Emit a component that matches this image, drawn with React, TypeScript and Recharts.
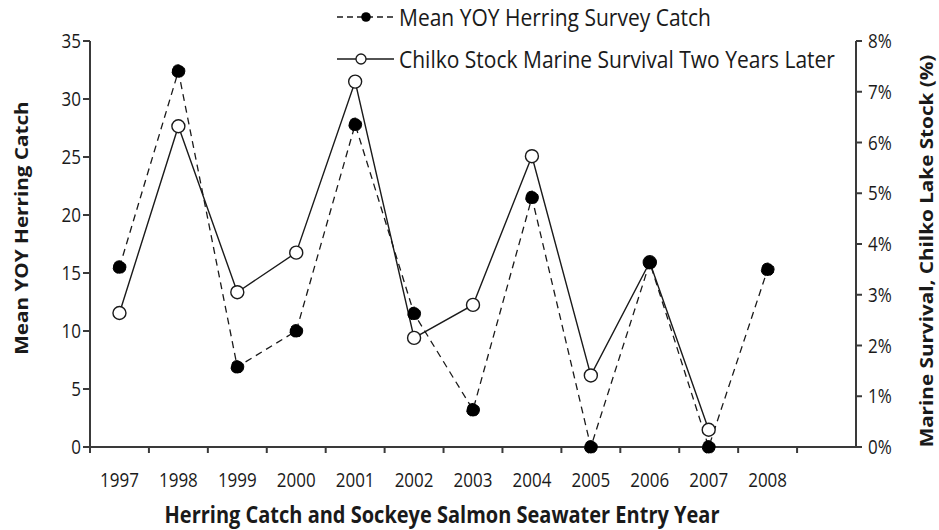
import React from 'react';
import { ComposedChart, Line, XAxis, YAxis, Legend, Label } from 'recharts';

// Seawater entry years (last slot is an empty category on the axis)
const years = ['1997', '1998', '1999', '2000', '2001', '2002', '2003', '2004', '2005', '2006', '2007', '2008', ''];

// Mean young-of-year herring survey catch
const herringCatch: (number | null)[] = [15.5, 32.4, 6.9, 10.0, 27.8, 11.5, 3.2, 21.5, 0, 15.9, 0, 15.3, null];

// Chilko stock marine survival two years later (%)
const marineSurvival: (number | null)[] = [2.64, 6.32, 3.05, 3.83, 7.2, 2.15, 2.8, 5.73, 1.41, 3.64, 0.34, null, null];

const catchTicks = [0, 5, 10, 15, 20, 25, 30, 35];
const survivalTicks = [0, 1, 2, 3, 4, 5, 6, 7, 8];

const herringName = 'Mean YOY Herring Survey Catch';
const survivalName = 'Chilko Stock Marine Survival Two Years Later';

const data = years.map((year, i) => ({
  year,
  herring: herringCatch[i],
  survival: marineSurvival[i],
}));

const FONT = '"Open Sans", "Noto Sans", sans-serif';
const INK = '#1a1a1a';
const AXIS = '#3a3a3a';
const STRETCH = 1.15;

type STextProps = {
  x: number;
  y: number;
  anchor?: 'start' | 'middle' | 'end';
  size: number;
  weight?: number;
  vertical?: boolean;
  dy?: string;
  children: React.ReactNode;
};

// Text drawn slightly taller than wide, as in the Excel-style figure
function SText({ x, y, anchor = 'middle', size, weight = 400, vertical = false, dy, children }: STextProps) {
  const transform = vertical
    ? `translate(${x},${y}) rotate(-90) scale(${STRETCH},1)`
    : `translate(${x},${y}) scale(1,${STRETCH})`;
  return (
    <text transform={transform} textAnchor={anchor} fontFamily={FONT} fontSize={size} fontWeight={weight} fill={INK} dy={dy}>
      {children}
    </text>
  );
}

const YearTick = (props: any) => {
  const { x, y, payload } = props;
  const half = typeof payload?.offset === 'number' && payload.offset > 0 ? payload.offset : 766 / years.length / 2;
  return (
    <g>
      <line x1={x - half} x2={x - half} y1={y} y2={y + 6} stroke={AXIS} strokeWidth={2} />
      {payload.value ? (
        <SText x={x} y={y + 40} size={17}>
          {payload.value}
        </SText>
      ) : null}
    </g>
  );
};

const CatchTick = (props: any) => {
  const { x, y, payload } = props;
  return (
    <SText x={x} y={y} anchor="end" size={17} dy="0.36em">
      {payload.value}
    </SText>
  );
};

const SurvivalTick = (props: any) => {
  const { x, y, payload } = props;
  return (
    <SText x={x} y={y} anchor="start" size={17} dy="0.36em">
      {`${payload.value}%`}
    </SText>
  );
};

const LegendIcon = ({ dashed }: { dashed: boolean }) => (
  <svg width={57} height={20} style={{ display: 'block' }}>
    <line x1={0} x2={57} y1={10} y2={10} stroke={INK} strokeWidth={1.4} strokeDasharray={dashed ? '6 4' : undefined} />
    {dashed ? (
      <circle cx={29} cy={10} r={4.8} fill="#000" />
    ) : (
      <circle cx={24} cy={10} r={5} fill="#fff" stroke={INK} strokeWidth={1.3} />
    )}
  </svg>
);

const renderLegend = () => {
  const rows = [
    { name: herringName, dashed: true },
    { name: survivalName, dashed: false },
  ];
  return (
    <div style={{ position: 'relative', width: 600, height: 80 }}>
      {rows.map((row, i) => (
        <div
          key={row.name}
          style={{
            position: 'absolute',
            left: 0,
            top: i * 42,
            height: 34,
            display: 'flex',
            alignItems: 'center',
            whiteSpace: 'nowrap',
          }}
        >
          <LegendIcon dashed={row.dashed} />
          <span
            style={{
              marginLeft: 5,
              fontFamily: FONT,
              fontSize: 21,
              color: INK,
              display: 'inline-block',
              transform: `scaleY(${STRETCH})`,
              transformOrigin: 'left center',
              lineHeight: '34px',
            }}
          >
            {row.name}
          </span>
        </div>
      ))}
    </div>
  );
};

export default function App() {
  return (
    <div style={{ position: 'absolute', left: 0, top: 0, width: 939, height: 530, background: '#fff' }}>
      <ComposedChart width={939} height={530} data={data} margin={{ top: 41, right: 0, bottom: 0, left: 0 }}>
        <XAxis
          dataKey="year"
          type="category"
          scale="band"
          interval={0}
          height={83}
          tickLine={false}
          tickSize={0}
          tickMargin={0}
          axisLine={{ stroke: AXIS, strokeWidth: 2 }}
          tick={<YearTick />}
        >
          <Label
            content={(p: any) => {
              const vb = p.viewBox || { x: 90, y: 447, width: 766, height: 83 };
              return (
                <SText x={vb.x + vb.width / 2 - 31} y={vb.y + 76} size={20} weight={700}>
                  Herring Catch and Sockeye Salmon Seawater Entry Year
                </SText>
              );
            }}
          />
        </XAxis>
        <YAxis
          yAxisId="catch"
          orientation="left"
          width={90}
          domain={[0, 35]}
          ticks={catchTicks}
          interval={0}
          tickSize={7}
          tickMargin={2}
          tickLine={{ stroke: AXIS, strokeWidth: 2 }}
          axisLine={{ stroke: AXIS, strokeWidth: 2 }}
          tick={<CatchTick />}
        >
          <Label
            content={(p: any) => {
              const vb = p.viewBox || { x: 0, y: 41, width: 90, height: 406 };
              return (
                <SText x={vb.x + 28} y={vb.y + 187} size={18} weight={700} vertical>
                  Mean YOY Herring Catch
                </SText>
              );
            }}
          />
        </YAxis>
        <YAxis
          yAxisId="survival"
          orientation="right"
          width={83}
          domain={[0, 8]}
          ticks={survivalTicks}
          interval={0}
          tickSize={6}
          tickMargin={6}
          tickLine={{ stroke: AXIS, strokeWidth: 2 }}
          axisLine={{ stroke: AXIS, strokeWidth: 2 }}
          tick={<SurvivalTick />}
        >
          <Label
            content={(p: any) => {
              const vb = p.viewBox || { x: 856, y: 41, width: 83, height: 406 };
              return (
                <SText x={vb.x + 77} y={vb.y + 210} size={18} weight={700} vertical>
                  Marine Survival, Chilko Lake Stock  (%)
                </SText>
              );
            }}
          />
        </YAxis>
        <Legend
          layout="horizontal"
          verticalAlign="middle"
          align="center"
          content={renderLegend}
          wrapperStyle={{ top: 0, left: 337, width: 600, height: 80 }}
        />
        <Line
          yAxisId="survival"
          dataKey="survival"
          name={survivalName}
          stroke={INK}
          strokeWidth={1.4}
          dot={{ r: 6.5, fill: '#fff', stroke: INK, strokeWidth: 1.4 }}
          activeDot={false}
          isAnimationActive={false}
        />
        <Line
          yAxisId="catch"
          dataKey="herring"
          name={herringName}
          stroke={INK}
          strokeWidth={1.3}
          strokeDasharray="7 5"
          dot={{ r: 6.5, fill: '#000', stroke: '#000', strokeWidth: 1 }}
          activeDot={false}
          isAnimationActive={false}
        />
      </ComposedChart>
    </div>
  );
}
